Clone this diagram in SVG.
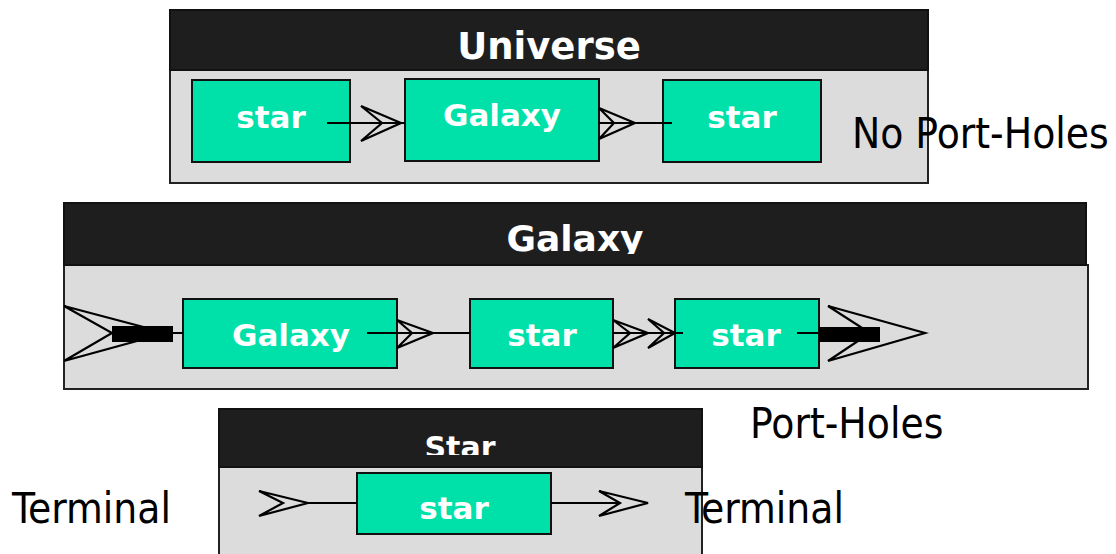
<svg xmlns="http://www.w3.org/2000/svg" width="1116" height="554" viewBox="0 0 1116 554">
  <style>
    .hdr { fill: #1e1e1e; stroke: #111; stroke-width: 2; }
    .body { fill: #dcdcdc; stroke: #222; stroke-width: 2; }
    .title { font-family: "DejaVu Sans", "Liberation Sans", sans-serif; font-weight: bold; fill: #ffffff; text-anchor: middle; }
    .node { fill: #00e1a9; stroke: #111; stroke-width: 2; }
    .lbl { font-family: "DejaVu Sans", "Liberation Sans", sans-serif; font-weight: bold; font-size: 31px; fill: #ffffff; text-anchor: middle; }
    .note { font-family: "DejaVu Sans Condensed", "DejaVu Sans", "Liberation Sans", sans-serif; font-stretch: condensed; font-size: 42px; fill: #000000; }
    .wire { stroke: #000; stroke-width: 2; fill: none; }
    .head { stroke: #000; stroke-width: 2.2; fill: none; stroke-linejoin: miter; }
    .bar { fill: #000; }
  </style>
  <defs>
    <clipPath id="clipGalaxyHdr"><rect x="63" y="203" width="1024" height="51"/></clipPath>
    <clipPath id="clipStarHdr"><rect x="219" y="409" width="484" height="46"/></clipPath>
  </defs>

  <!-- Universe container -->
  <g id="universe">
    <rect class="body" x="170" y="70" width="758" height="113"/>
    <rect class="hdr" x="170" y="10" width="758" height="60"/>
    <text class="title" x="549" y="59" font-size="37">Universe</text>
  </g>
  <g id="u-star1">
    <rect class="node" x="192" y="80" width="158" height="82"/>
    <text class="lbl" x="271" y="128">star</text>
  </g>
  <g id="u-galaxy">
    <rect class="node" x="405" y="79" width="194" height="82"/>
    <text class="lbl" x="502" y="126">Galaxy</text>
  </g>
  <g id="u-star2">
    <rect class="node" x="663" y="80" width="158" height="82"/>
    <text class="lbl" x="742" y="128">star</text>
  </g>

  <!-- Galaxy container -->
  <g id="galaxy">
    <rect class="body" x="64" y="265" width="1024" height="124"/>
    <rect class="hdr" x="64" y="203" width="1022" height="62"/>
    <text class="title" x="575" y="251" font-size="36" clip-path="url(#clipGalaxyHdr)">Galaxy</text>
  </g>
  <g id="g-galaxy">
    <rect class="node" x="183" y="299" width="214" height="69"/>
    <text class="lbl" x="291" y="346">Galaxy</text>
  </g>
  <g id="g-star1">
    <rect class="node" x="470" y="299" width="143" height="69"/>
    <text class="lbl" x="542" y="346">star</text>
  </g>
  <g id="g-star2">
    <rect class="node" x="675" y="299" width="144" height="69"/>
    <text class="lbl" x="746" y="346">star</text>
  </g>

  <!-- Star container -->
  <g id="star">
    <rect class="body" x="219" y="467" width="483" height="100"/>
    <rect class="hdr" x="219" y="409" width="483" height="58"/>
    <text class="title" x="460" y="458" font-size="30" clip-path="url(#clipStarHdr)">Star</text>
  </g>
  <g id="s-star">
    <rect class="node" x="357" y="473" width="194" height="61"/>
    <text class="lbl" x="454" y="519">star</text>
  </g>

  <!-- Free labels -->
  <g id="labels">
    <text class="note" x="852" y="148">No Port-Holes</text>
    <text class="note" x="750" y="438">Port-Holes</text>
    <text class="note" x="12" y="523">Terminal</text>
    <text class="note" x="685" y="523">Terminal</text>
  </g>

  <!-- Connectors -->
  <g id="connectors">
    <!-- Universe -->
    <line class="wire" x1="327" y1="123" x2="405" y2="123"/>
    <polygon class="head" points="361,106 401,123 361,141 382,123"/>
    <line class="wire" x1="599" y1="123" x2="672" y2="123"/>
    <polygon class="head" points="599,108 635,123 599,139 614,123"/>

    <!-- Galaxy: inbound port-hole -->
    <polygon class="head" points="64,306 166,333 64,361 112,333"/>
    <rect class="bar" x="112" y="326" width="61" height="16"/>
    <line class="wire" x1="173" y1="333" x2="183" y2="333"/>

    <line class="wire" x1="367" y1="333" x2="470" y2="333"/>
    <polygon class="head" points="397,320 433,333 397,348 412,333"/>

    <line class="wire" x1="613" y1="333" x2="683" y2="333"/>
    <polygon class="head" points="613,320 648,333 613,348 630,333"/>
    <polygon class="head" points="648,319 675,333 648,348 664,333"/>

    <!-- Galaxy: outbound port-hole -->
    <line class="wire" x1="797" y1="333" x2="819" y2="333"/>
    <polygon class="head" points="828,306 925,333 828,361 870,333"/>
    <rect class="bar" x="819" y="327" width="61" height="15"/>

    <!-- Star terminals -->
    <line class="wire" x1="308" y1="503" x2="357" y2="503"/>
    <polygon class="head" points="259,491 308,503 259,516 283,503"/>
    <line class="wire" x1="551" y1="503" x2="620" y2="503"/>
    <polygon class="head" points="599,491 648,503 599,516 620,503"/>
  </g>
</svg>
